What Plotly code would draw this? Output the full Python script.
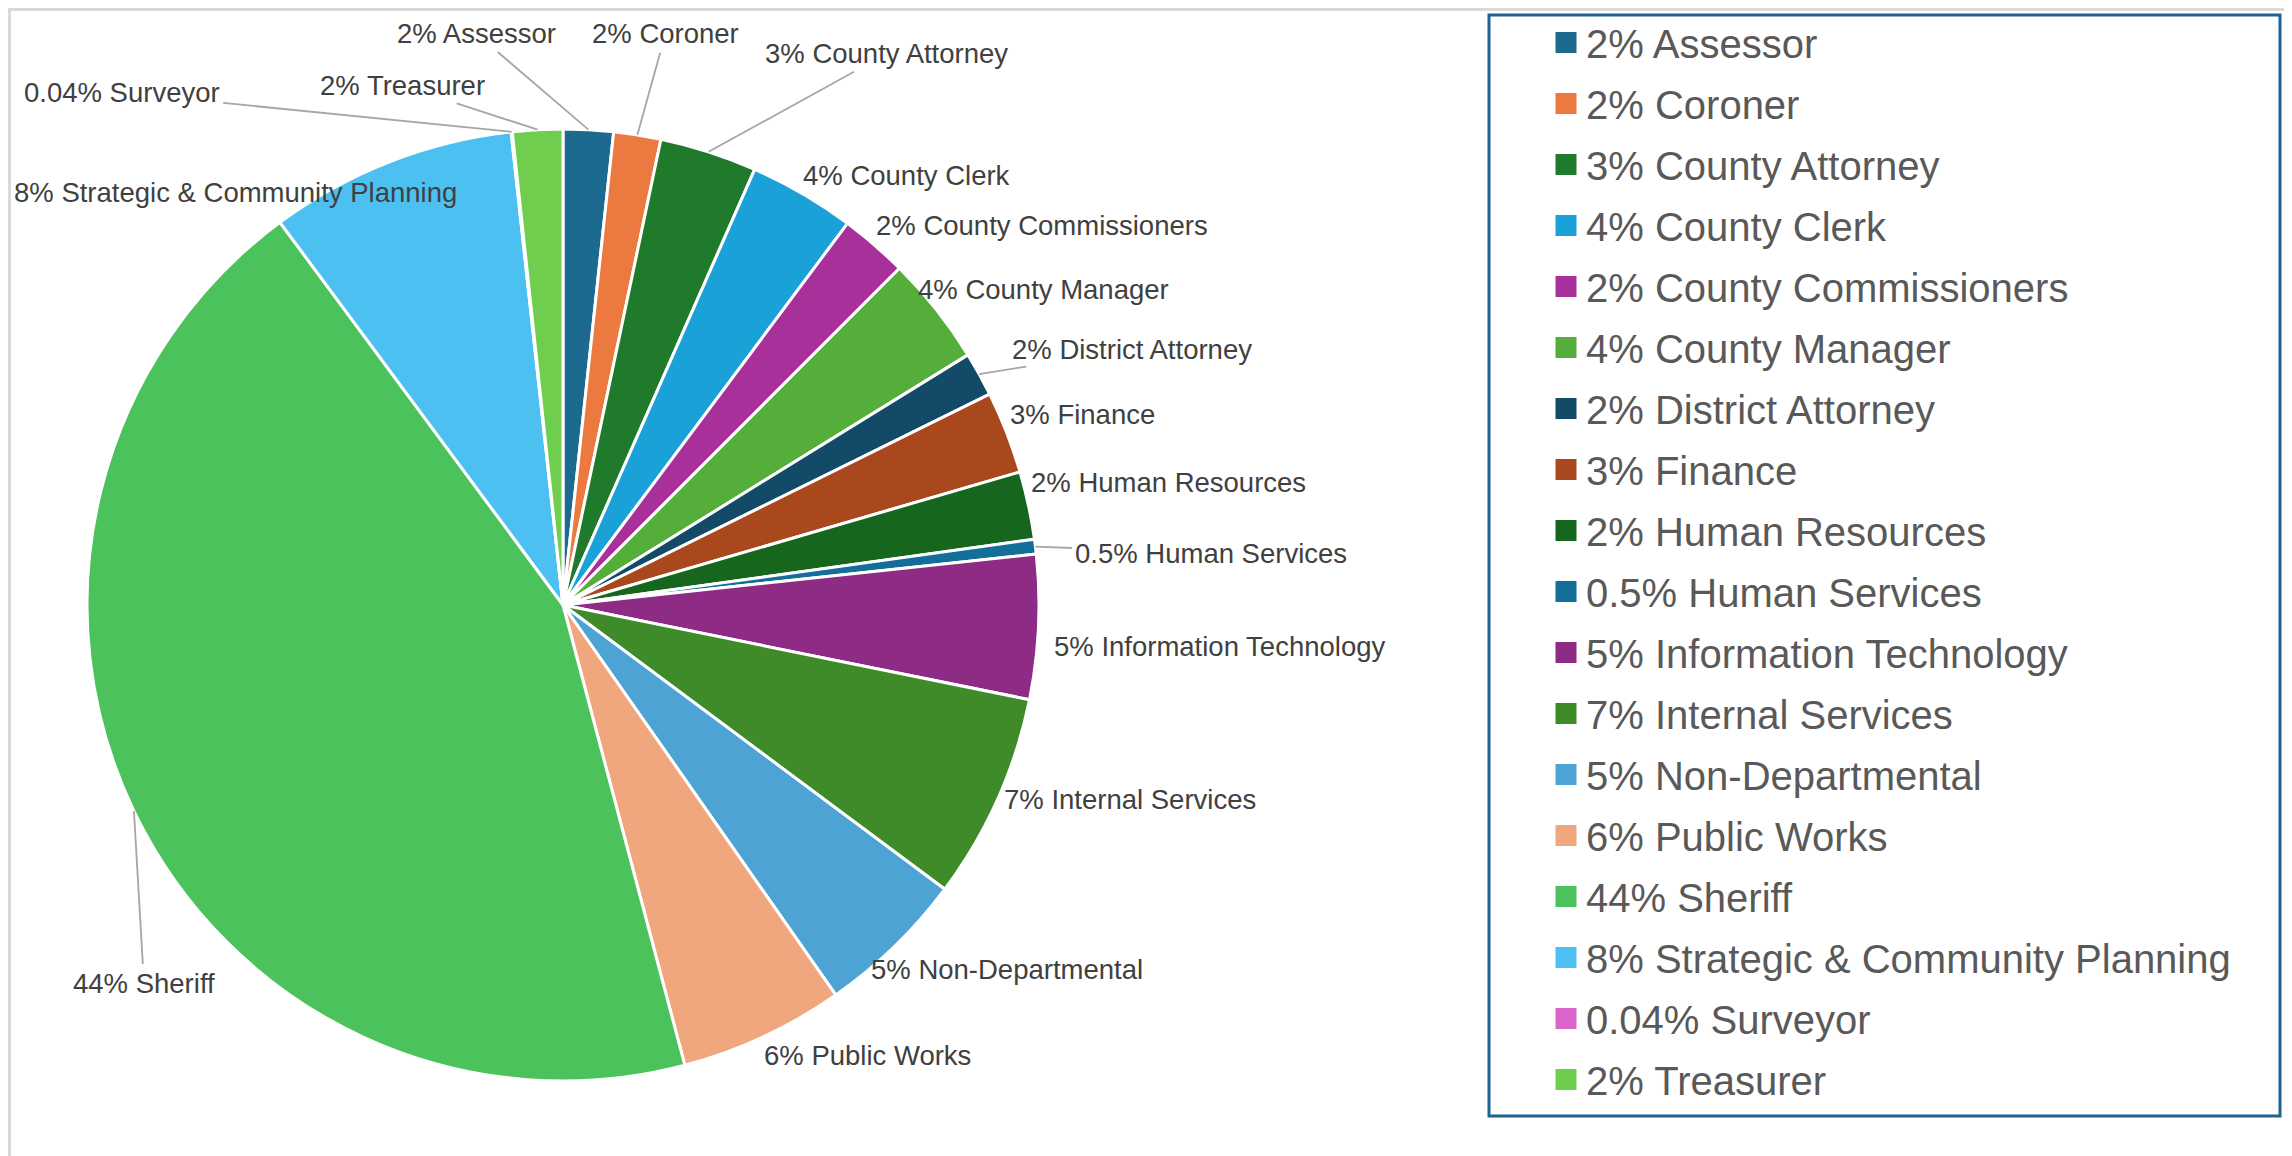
import math
import plotly.graph_objects as go

# Department budget shares (percent of total)
departments = [
    "Assessor", "Coroner", "County Attorney", "County Clerk", "County Commissioners",
    "County Manager", "District Attorney", "Finance", "Human Resources", "Human Services",
    "Information Technology", "Internal Services", "Non-Departmental", "Public Works",
    "Sheriff", "Strategic & Community Planning", "Surveyor", "Treasurer",
]
shares = [1.7, 1.6, 3.3, 3.6, 2.3, 3.7, 1.5, 2.8, 2.3, 0.5,
          4.9, 7.0, 5.1, 5.6, 44.0, 8.4, 0.04, 1.7]
pct_labels = ["2%", "2%", "3%", "4%", "2%", "4%", "2%", "3%", "2%", "0.5%",
              "5%", "7%", "5%", "6%", "44%", "8%", "0.04%", "2%"]

colors = [
    "#1D6A90", "#EC7A40", "#1F7A2C", "#1AA1D8", "#A8309A", "#55AE3A",
    "#124A68", "#A9481C", "#17661E", "#136F9A", "#8E2B84", "#3F8B29",
    "#4DA3D4", "#F0A77D", "#4CC25C", "#4DC0F2", "#D965CC", "#6FCE4D",
]

labels = [f"{p} {d}" for p, d in zip(pct_labels, departments)]

W, H = 2292, 1156
FONT = "Liberation Sans, Arial, sans-serif"
PAGE_PAD = 8  # default body margin of the html page


def px_x(x):
    """page pixel x -> paper fraction"""
    return (x - PAGE_PAD) / W


def px_y(y):
    """page pixel y (from top) -> paper fraction"""
    return 1 - (y - PAGE_PAD) / H


# pie geometry in page pixels
PIE_CX, PIE_CY, PIE_R = 563, 605, 476

# data-label placement: pixel offset of each label from its slice's outer midpoint,
# and whether Excel drew a leader line for it
label_offsets = [
    (-112, -96), (28, -101), (178, -98), (104, -18), (168, -19), (107, -20),
    (153, -25), (76, -18), (140, -23), (176, 7), (181, 19), (132, 0),
    (112, 23), (104, 19), (10, 172), (-154, 31), (-390, -39), (-135, -44),
]
leader = [True, True, True, False, False, False, True, False, False, True,
          False, False, False, False, True, False, True, True]

fig = go.Figure()

fig.add_trace(go.Pie(
    labels=labels,
    values=shares,
    sort=False,
    direction="clockwise",
    rotation=0,
    marker=dict(colors=colors, line=dict(color="white", width=3)),
    textinfo="none",
    showlegend=False,
    automargin=False,
    hoverinfo="label+value",
    domain=dict(x=[px_x(PIE_CX - PIE_R), px_x(PIE_CX + PIE_R)],
                y=[px_y(PIE_CY + PIE_R), px_y(PIE_CY - PIE_R)]),
))

# legend entries (one per slice, so spacing can match the original)
for i, (lab, col) in enumerate(zip(labels, colors)):
    fig.add_trace(go.Scatter(
        x=[None], y=[None],
        mode="markers",
        name=lab,
        legendgroup=f"g{i}",
        marker=dict(symbol="square", size=16, color=col,
                    line=dict(color=col, width=5)),
        showlegend=True,
        hoverinfo="skip",
    ))

# outside data labels anchored on each slice's outer midpoint
total = sum(shares)
annotations = []
cum = 0.0
for lab, v, (dx, dy), has_line in zip(labels, shares, label_offsets, leader):
    theta = 2 * math.pi * (cum + v / 2) / total
    cum += v
    px = PIE_CX + PIE_R * math.sin(theta)
    py = PIE_CY - PIE_R * math.cos(theta)
    ann = dict(
        x=px_x(px), y=px_y(py), xref="paper", yref="paper",
        text=lab,
        font=dict(family=FONT, size=27.5, color="#404040"),
    )
    if has_line:
        ann.update(showarrow=True, ax=dx, ay=dy, arrowhead=0, arrowwidth=1.8,
                   arrowcolor="#A6A6A6", standoff=0, startstandoff=2)
    else:
        ann.update(showarrow=False, xshift=dx, yshift=-dy,
                   xanchor="center", yanchor="middle")
    annotations.append(ann)

fig.update_layout(
    width=W, height=H,
    margin=dict(l=0, r=0, t=0, b=0, autoexpand=False),
    paper_bgcolor="white",
    plot_bgcolor="white",
    font=dict(family=FONT, color="#595959"),
    xaxis=dict(visible=False),
    yaxis=dict(visible=False),
    legend=dict(
        x=px_x(1546), xanchor="left",
        y=px_y(10), yanchor="top",
        font=dict(family=FONT, size=40, color="#595959"),
        tracegroupgap=6,
        bgcolor="rgba(0,0,0,0)",
        borderwidth=0,
    ),
    annotations=annotations,
    shapes=[
        # outer chart frame
        dict(type="rect", xref="paper", yref="paper",
             x0=1.5 / W, x1=1.01, y0=-0.01, y1=1 - 1.5 / H,
             line=dict(color="#D9D9D9", width=3), layer="below"),
        # legend box
        dict(type="rect", xref="paper", yref="paper",
             x0=px_x(1489), x1=px_x(2280), y0=px_y(1116), y1=px_y(15),
             line=dict(color="#1F6391", width=3)),
    ],
)

fig.write_html("out.html")
